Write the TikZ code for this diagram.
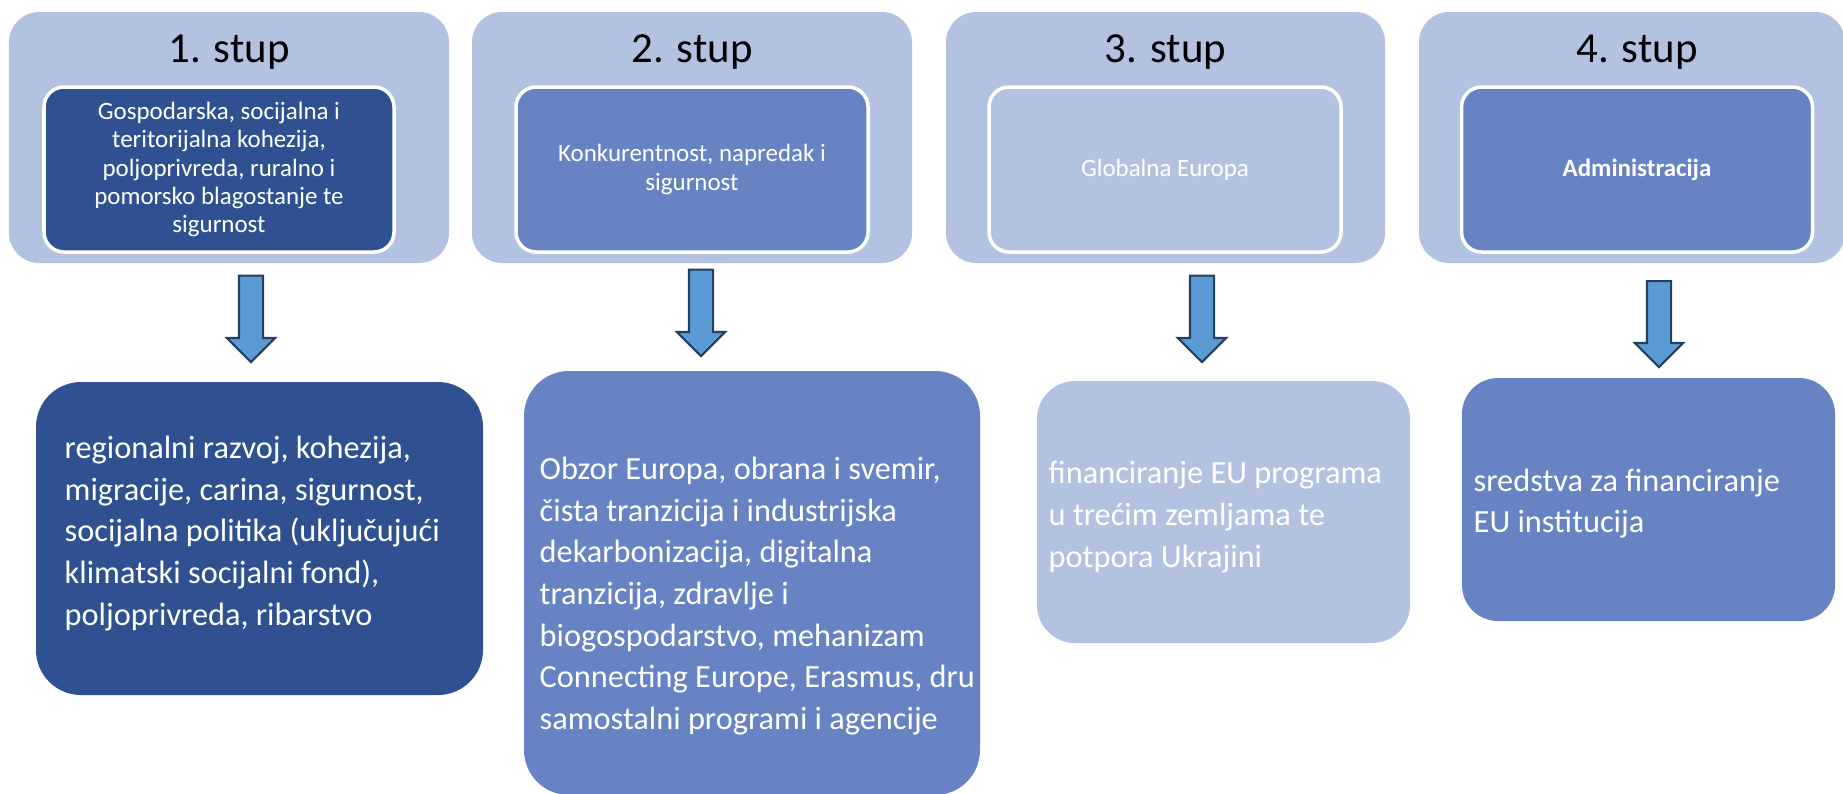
\documentclass[tikz,border=0pt]{standalone}
\usepackage{fontspec}
\setmainfont{Carlito}
\usetikzlibrary{shapes.arrows}
\definecolor{pale}{HTML}{B4C2E1}
\definecolor{navy}{HTML}{2F5191}
\definecolor{mid}{HTML}{6783C3}
\definecolor{arrfill}{HTML}{5B9BD5}
\definecolor{arrline}{HTML}{243F60}

\begin{document}
\begin{tikzpicture}[
    pillar/.style={rounded corners=0.3cm, fill=pale, minimum height=2.51cm, inner sep=0pt},
    title/.style={font=\fontsize{12.2}{14}\selectfont, anchor=base},
    inner/.style={rounded corners=0.2cm, draw=white, line width=1pt, text=white, align=center,
        minimum height=1.65cm, inner sep=0pt, font=\fontsize{7.1}{8}\selectfont},
    fund/.style={rounded corners=0.45cm, inner sep=0pt},
    fundtext/.style={text=white, align=left, anchor=west, inner sep=0pt,
        font=\fontsize{9.2}{11.85}\selectfont},
    blockarrow/.style={single arrow, shape border rotate=270, fill=arrfill, draw=arrline,
        line width=0.6pt, minimum width=0.46cm, single arrow head extend=0.12cm,
        inner sep=0.11cm, anchor=tail}]
    \useasboundingbox (0,0) rectangle (18.43,-7.93);

    % pillars
    \node[pillar, minimum width=4.40cm] (p1) at (2.29,-1.375) {};
    \node[pillar, minimum width=4.40cm] (p2) at (6.92,-1.375) {};
    \node[pillar, minimum width=4.39cm] (p3) at (11.655,-1.375) {};
    \node[pillar, minimum width=4.26cm] (p4) at (16.32,-1.375) {};

    % titles
    \node[title] (t1) at (2.29,-0.62) {1. stup};
    \node[title] (t2) at (6.92,-0.62) {2. stup};
    \node[title] (t3) at (11.655,-0.62) {3. stup};
    \node[title] (t4) at (16.37,-0.62) {4. stup};

    % inner boxes
    \node[inner, fill=navy, minimum width=3.50cm] (g1) at (2.19,-1.695)
        {Gospodarska, socijalna i\\teritorijalna kohezija,\\poljoprivreda, ruralno i\\pomorsko blagostanje te\\sigurnost};
    \node[inner, fill=mid, minimum width=3.52cm] (g2) at (6.92,-1.695)
        {Konkurentnost, napredak i\\sigurnost};
    \node[inner, fill=pale, minimum width=3.52cm] (g3) at (11.65,-1.695) {Globalna Europa};
    \node[inner, fill=mid, minimum width=3.51cm, font=\fontsize{7.1}{8}\selectfont\bfseries] (g4) at (16.37,-1.695)
        {Administracija};

    % arrows
    \node[blockarrow, minimum height=0.864cm] (a1) at (2.51,-2.746) {};
    \node[blockarrow, minimum height=0.865cm] (a2) at (7.01,-2.685) {};
    \node[blockarrow, minimum height=0.864cm] (a3) at (12.02,-2.746) {};
    \node[blockarrow, minimum height=0.86cm] (a4) at (16.59,-2.80) {};

    % funds
    \node[fund, fill=navy, minimum width=4.47cm, minimum height=3.13cm] (f1) at (2.595,-5.385) {};
    \node[fund, fill=mid, minimum width=4.56cm, minimum height=4.24cm] (f2) at (7.52,-5.83) {};
    \node[fund, fill=pale, minimum width=3.73cm, minimum height=2.62cm, rounded corners=0.38cm] (f3) at (12.235,-5.12) {};
    \node[fund, fill=mid, minimum width=3.73cm, minimum height=2.43cm, rounded corners=0.36cm] (f4) at (16.485,-4.995) {};

    % fund texts
    \node[fundtext] (l1) at (0.64,-5.335)
        {regionalni razvoj, kohezija,\\migracije, carina, sigurnost,\\socijalna politika (uključujući\\klimatski socijalni fond),\\poljoprivreda, ribarstvo};
    \node[fundtext] (l2) at (5.39,-5.96)
        {Obzor Europa, obrana i svemir,\\čista tranzicija i industrijska\\dekarbonizacija, digitalna\\tranzicija, zdravlje i\\biogospodarstvo, mehanizam\\Connecting Europe, Erasmus, dru\\samostalni programi i agencije};
    \node[fundtext] (l3) at (10.48,-5.17)
        {financiranje EU programa\\u trećim zemljama te\\potpora Ukrajini};
    \node[fundtext] (l4) at (14.73,-5.035)
        {sredstva za financiranje\\EU institucija};
\end{tikzpicture}
\end{document}
